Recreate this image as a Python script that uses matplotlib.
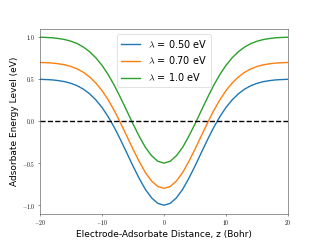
import matplotlib
matplotlib.use("Agg")
import matplotlib.pyplot as plt
from matplotlib.ticker import FuncFormatter

plt.rcParams['mathtext.fontset'] = 'cm'

z = list(range(-20, 21))

# symmetric around z = 0
half_blue = [-1.0, -0.978, -0.913, -0.813, -0.682, -0.535, -0.379, -0.225, -0.079, 0.050,
             0.161, 0.251, 0.323, 0.378, 0.419, 0.447, 0.467, 0.479, 0.488, 0.492, 0.495]
half_orange = [-0.8, -0.778, -0.713, -0.613, -0.482, -0.335, -0.179, -0.025, 0.121, 0.250,
               0.361, 0.451, 0.523, 0.578, 0.619, 0.647, 0.667, 0.679, 0.688, 0.692, 0.695]
half_green = [-0.5, -0.478, -0.413, -0.313, -0.182, -0.035, 0.121, 0.275, 0.421, 0.550,
              0.661, 0.751, 0.823, 0.878, 0.919, 0.947, 0.967, 0.979, 0.988, 0.992, 0.995]

level_050 = half_blue[:0:-1] + half_blue
level_070 = half_orange[:0:-1] + half_orange
level_100 = half_green[:0:-1] + half_green

labels = [r'$\lambda$ = 0.50 eV', r'$\lambda$ = 0.70 eV', r'$\lambda$ = 1.0 eV']

fig, ax = plt.subplots(figsize=(6.4, 4.8), dpi=50)
ax.plot(z, level_050, color='tab:blue', lw=2, label=labels[0])
ax.plot(z, level_070, color='tab:orange', lw=2, label=labels[1])
ax.plot(z, level_100, color='tab:green', lw=2, label=labels[2])
ax.axhline(0, color='k', ls='--', lw=2)

ax.set_xlim(-20, 20)
ax.set_xticks([-20, -10, 0, 10, 20])
ax.set_yticks([-1.0, -0.5, 0.0, 0.5, 1.0])
ax.xaxis.set_major_formatter(FuncFormatter(lambda v, p: r'$%d$' % v))
ax.yaxis.set_major_formatter(FuncFormatter(lambda v, p: r'$%.1f$' % v))
ax.tick_params(labelsize=8, color='#444444')
for s in ax.spines.values():
    s.set_color('#444444')

ax.set_xlabel("Electrode-Adsorbate Distance, z (Bohr)", fontsize=13)
ax.set_ylabel("Adsorbate Energy Level (eV)", fontsize=13)
ax.legend(loc='upper center', fontsize=14)

fig.savefig("out.png", dpi=50)
